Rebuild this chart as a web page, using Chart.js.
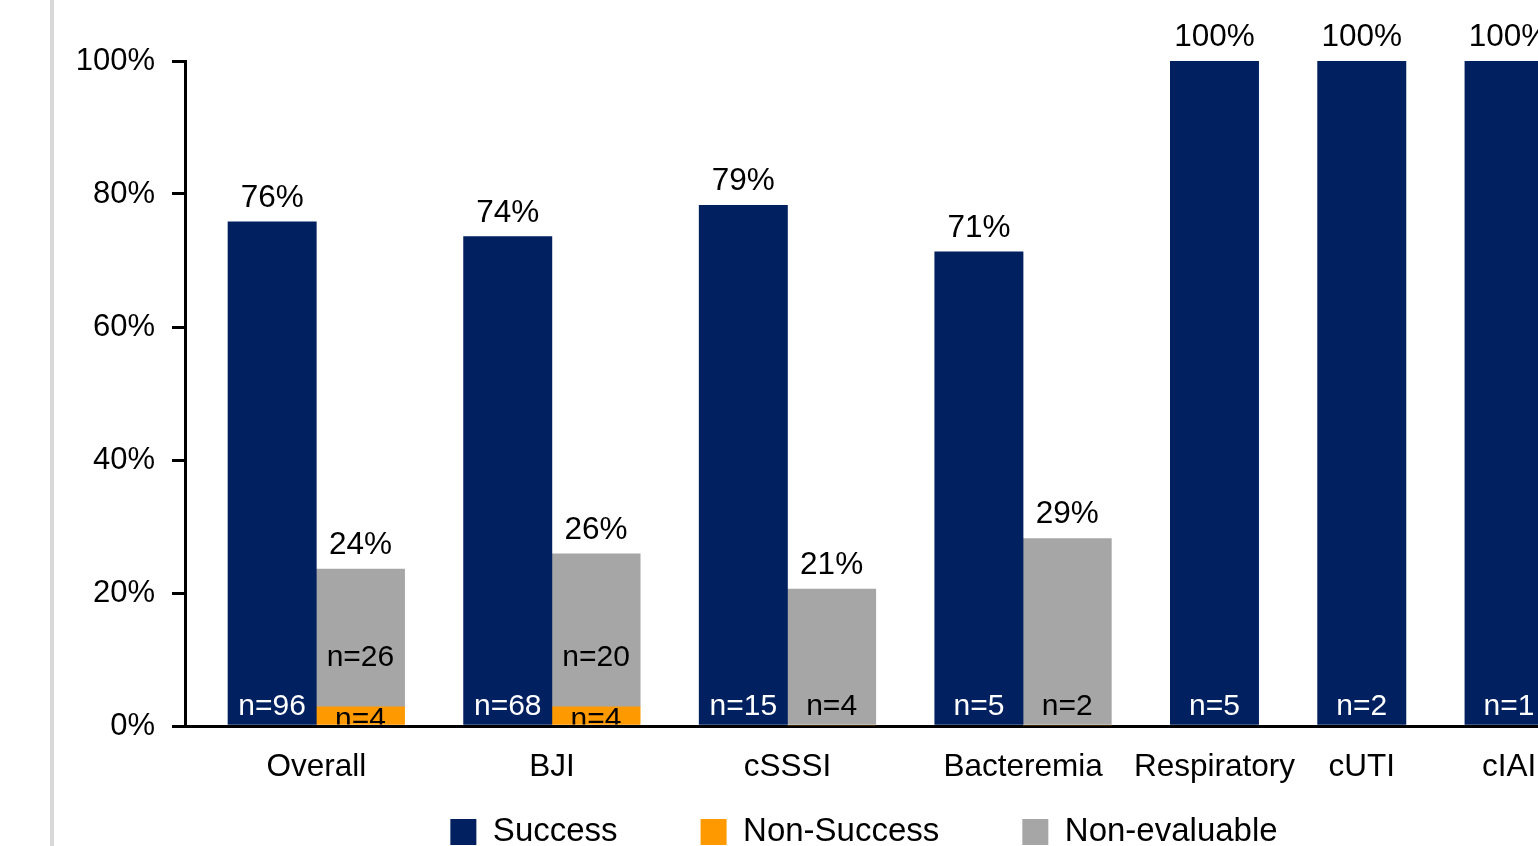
<!DOCTYPE html>
<html>
<head>
<meta charset="utf-8">
<script src="https://cdn.jsdelivr.net/npm/chart.js@4"></script>
<style>
html, body { margin: 0; padding: 0; background: #fff; overflow: hidden; width: 1538px; height: 846px; }
#wrap { position: relative; width: 1538px; height: 846px; overflow: hidden; }
#strip { position: absolute; left: 50px; top: 0; width: 4px; height: 846px; background: #d9d9d9; z-index: 2; }
canvas { position: absolute; left: 0; top: 0; }
</style>
</head>
<body>
<div id="wrap">
  <div id="strip"></div>
  <canvas id="c" width="1728" height="912"></canvas>
</div>
<script>
// ---- data ----
const categories = ['Overall', 'BJI', 'cSSSI', 'Bacteremia', 'Respiratory', 'cUTI', 'cIAI'];
const successPct = [75.8, 73.6, 78.3, 71.3, 100, 100, 100];
const successLabels = ['76%', '74%', '79%', '71%', '100%', '100%', '100%'];
const successN = [96, 68, 15, 5, 5, 2, 1];
// second bar only for the first four categories (stacked: Non-Success below Non-evaluable)
const nonSuccessPct = [2.9, 2.9, 0, 0];
const nonSuccessN = [4, 4, 0, 0];
const nonEvalPct = [20.7, 23.0, 20.6, 28.2];
const nonEvalN = [26, 20, 4, 2];
const otherLabels = ['24%', '26%', '21%', '29%'];
const yTicks = [0, 20, 40, 60, 80, 100];

// ---- layout of bar slots (1 unit = one bar width) ----
const GAP = 0.668;
const successX = [], otherX = [], labelX = [];
let pos = 0;
categories.forEach((c, i) => {
  successX.push(pos + 0.5);
  if (i < nonEvalPct.length) {
    otherX.push(pos + 1.5);
    labelX.push(pos + 1);
    pos += 2;
  } else {
    labelX.push(pos + 0.5);
    pos += 1;
  }
  pos += GAP;
});
const PX_PER_UNIT = 88.3;
const AREA_LEFT = 185;
const FIRST_BAR_LEFT = 228;
const CANVAS_W = 1728;
const xMin = (AREA_LEFT - FIRST_BAR_LEFT) / PX_PER_UNIT;
const xMax = xMin + (CANVAS_W - AREA_LEFT) / PX_PER_UNIT;
const LEGEND_ITEM_CENTER = 832;
const LEGEND_PAD = 83;

const FONT = '"Liberation Sans", Arial, Helvetica, sans-serif';
Chart.defaults.font.family = FONT;
Chart.defaults.color = '#000';

const labelPlugin = {
  id: 'barLabels',
  afterLayout(chart) {
    // move the legend row up under the axis labels
    const lg = chart.legend;
    if (lg) {
      const h = lg.height;
      lg.top = LEGEND_ITEM_CENTER - 33 / 2 - LEGEND_PAD;
      lg.bottom = lg.top + h;
    }
  },
  afterDatasetsDraw(chart) {
    const ctx = chart.ctx;
    const base = chart.scales.y.getPixelForValue(0);
    const mS = chart.getDatasetMeta(0), mN = chart.getDatasetMeta(1), mE = chart.getDatasetMeta(2);
    ctx.save();
    ctx.textAlign = 'center';
    ctx.textBaseline = 'alphabetic';
    const pctFont = '31.5px ' + FONT;
    const nFont = '30px ' + FONT;
    mS.data.forEach((bar, i) => {
      ctx.font = pctFont;
      ctx.fillStyle = '#000';
      ctx.fillText(successLabels[i], bar.x, bar.y - 15);
      ctx.font = nFont;
      ctx.fillStyle = '#fff';
      ctx.fillText('n=' + successN[i], bar.x, base - 11);
    });
    mE.data.forEach((bar, i) => {
      ctx.fillStyle = '#000';
      ctx.font = pctFont;
      ctx.fillText(otherLabels[i], bar.x, bar.y - 15);
      ctx.font = nFont;
      const hasNS = nonSuccessN[i] > 0;
      ctx.fillText('n=' + nonEvalN[i], bar.x, hasNS ? base - 60 : base - 11);
    });
    // Non-Success labels, partly hidden under the axis line
    ctx.beginPath();
    ctx.rect(0, 0, chart.width, base - 1.5);
    ctx.clip();
    ctx.font = nFont;
    mN.data.forEach((bar, i) => {
      if (nonSuccessN[i] > 0) {
        ctx.fillStyle = '#000';
        ctx.fillText('n=' + nonSuccessN[i], bar.x, base + 2);
      }
    });
    ctx.restore();
  }
};

new Chart(document.getElementById('c'), {
  type: 'bar',
  data: {
    datasets: [
      {
        label: 'Success',
        data: successPct.map((v, i) => ({ x: successX[i], y: v })),
        backgroundColor: '#002060',
        stack: 'a'
      },
      {
        label: 'Non-Success',
        data: nonSuccessPct.map((v, i) => ({ x: otherX[i], y: v })),
        backgroundColor: '#FF9900',
        stack: 'b'
      },
      {
        label: 'Non-evaluable',
        data: nonEvalPct.map((v, i) => ({ x: otherX[i], y: v })),
        backgroundColor: '#A6A6A6',
        stack: 'b'
      }
    ]
  },
  options: {
    responsive: false,
    animation: false,
    devicePixelRatio: 1,
    layout: { padding: { top: 61, left: 0, right: 0, bottom: 0 } },
    datasets: { bar: { grouped: false, barPercentage: 1, categoryPercentage: 1, borderWidth: 0 } },
    scales: {
      x: {
        type: 'linear',
        min: xMin,
        max: xMax,
        offset: false,
        grid: { display: false, drawTicks: false },
        border: { display: true, color: '#000', width: 3 },
        ticks: {
          autoSkip: false,
          maxRotation: 0,
          minRotation: 0,
          padding: 22,
          color: '#000',
          font: { size: 31.5 },
          callback: (v) => { const k = labelX.indexOf(v); return k >= 0 ? categories[k] : ''; }
        },
        afterBuildTicks: (s) => { s.ticks = labelX.map(v => ({ value: v })); },
        afterFit: (s) => { s.height = 60; }
      },
      y: {
        min: 0,
        max: 100,
        stacked: true,
        grid: { display: true, drawOnChartArea: false, drawTicks: true, tickLength: 13, color: '#000', lineWidth: 3 },
        border: { display: true, color: '#000', width: 3 },
        ticks: {
          padding: 17,
          color: '#000',
          font: { size: 31 },
          callback: (v) => v + '%'
        },
        afterBuildTicks: (s) => { s.ticks = yTicks.map(v => ({ value: v })); },
        afterFit: (s) => { s.width = AREA_LEFT; }
      }
    },
    plugins: {
      tooltip: { enabled: false },
      legend: {
        position: 'bottom',
        labels: {
          boxWidth: 26,
          boxHeight: 26,
          padding: LEGEND_PAD,
          color: '#000',
          font: { size: 33 }
        }
      }
    }
  },
  plugins: [labelPlugin]
});
</script>
</body>
</html>
